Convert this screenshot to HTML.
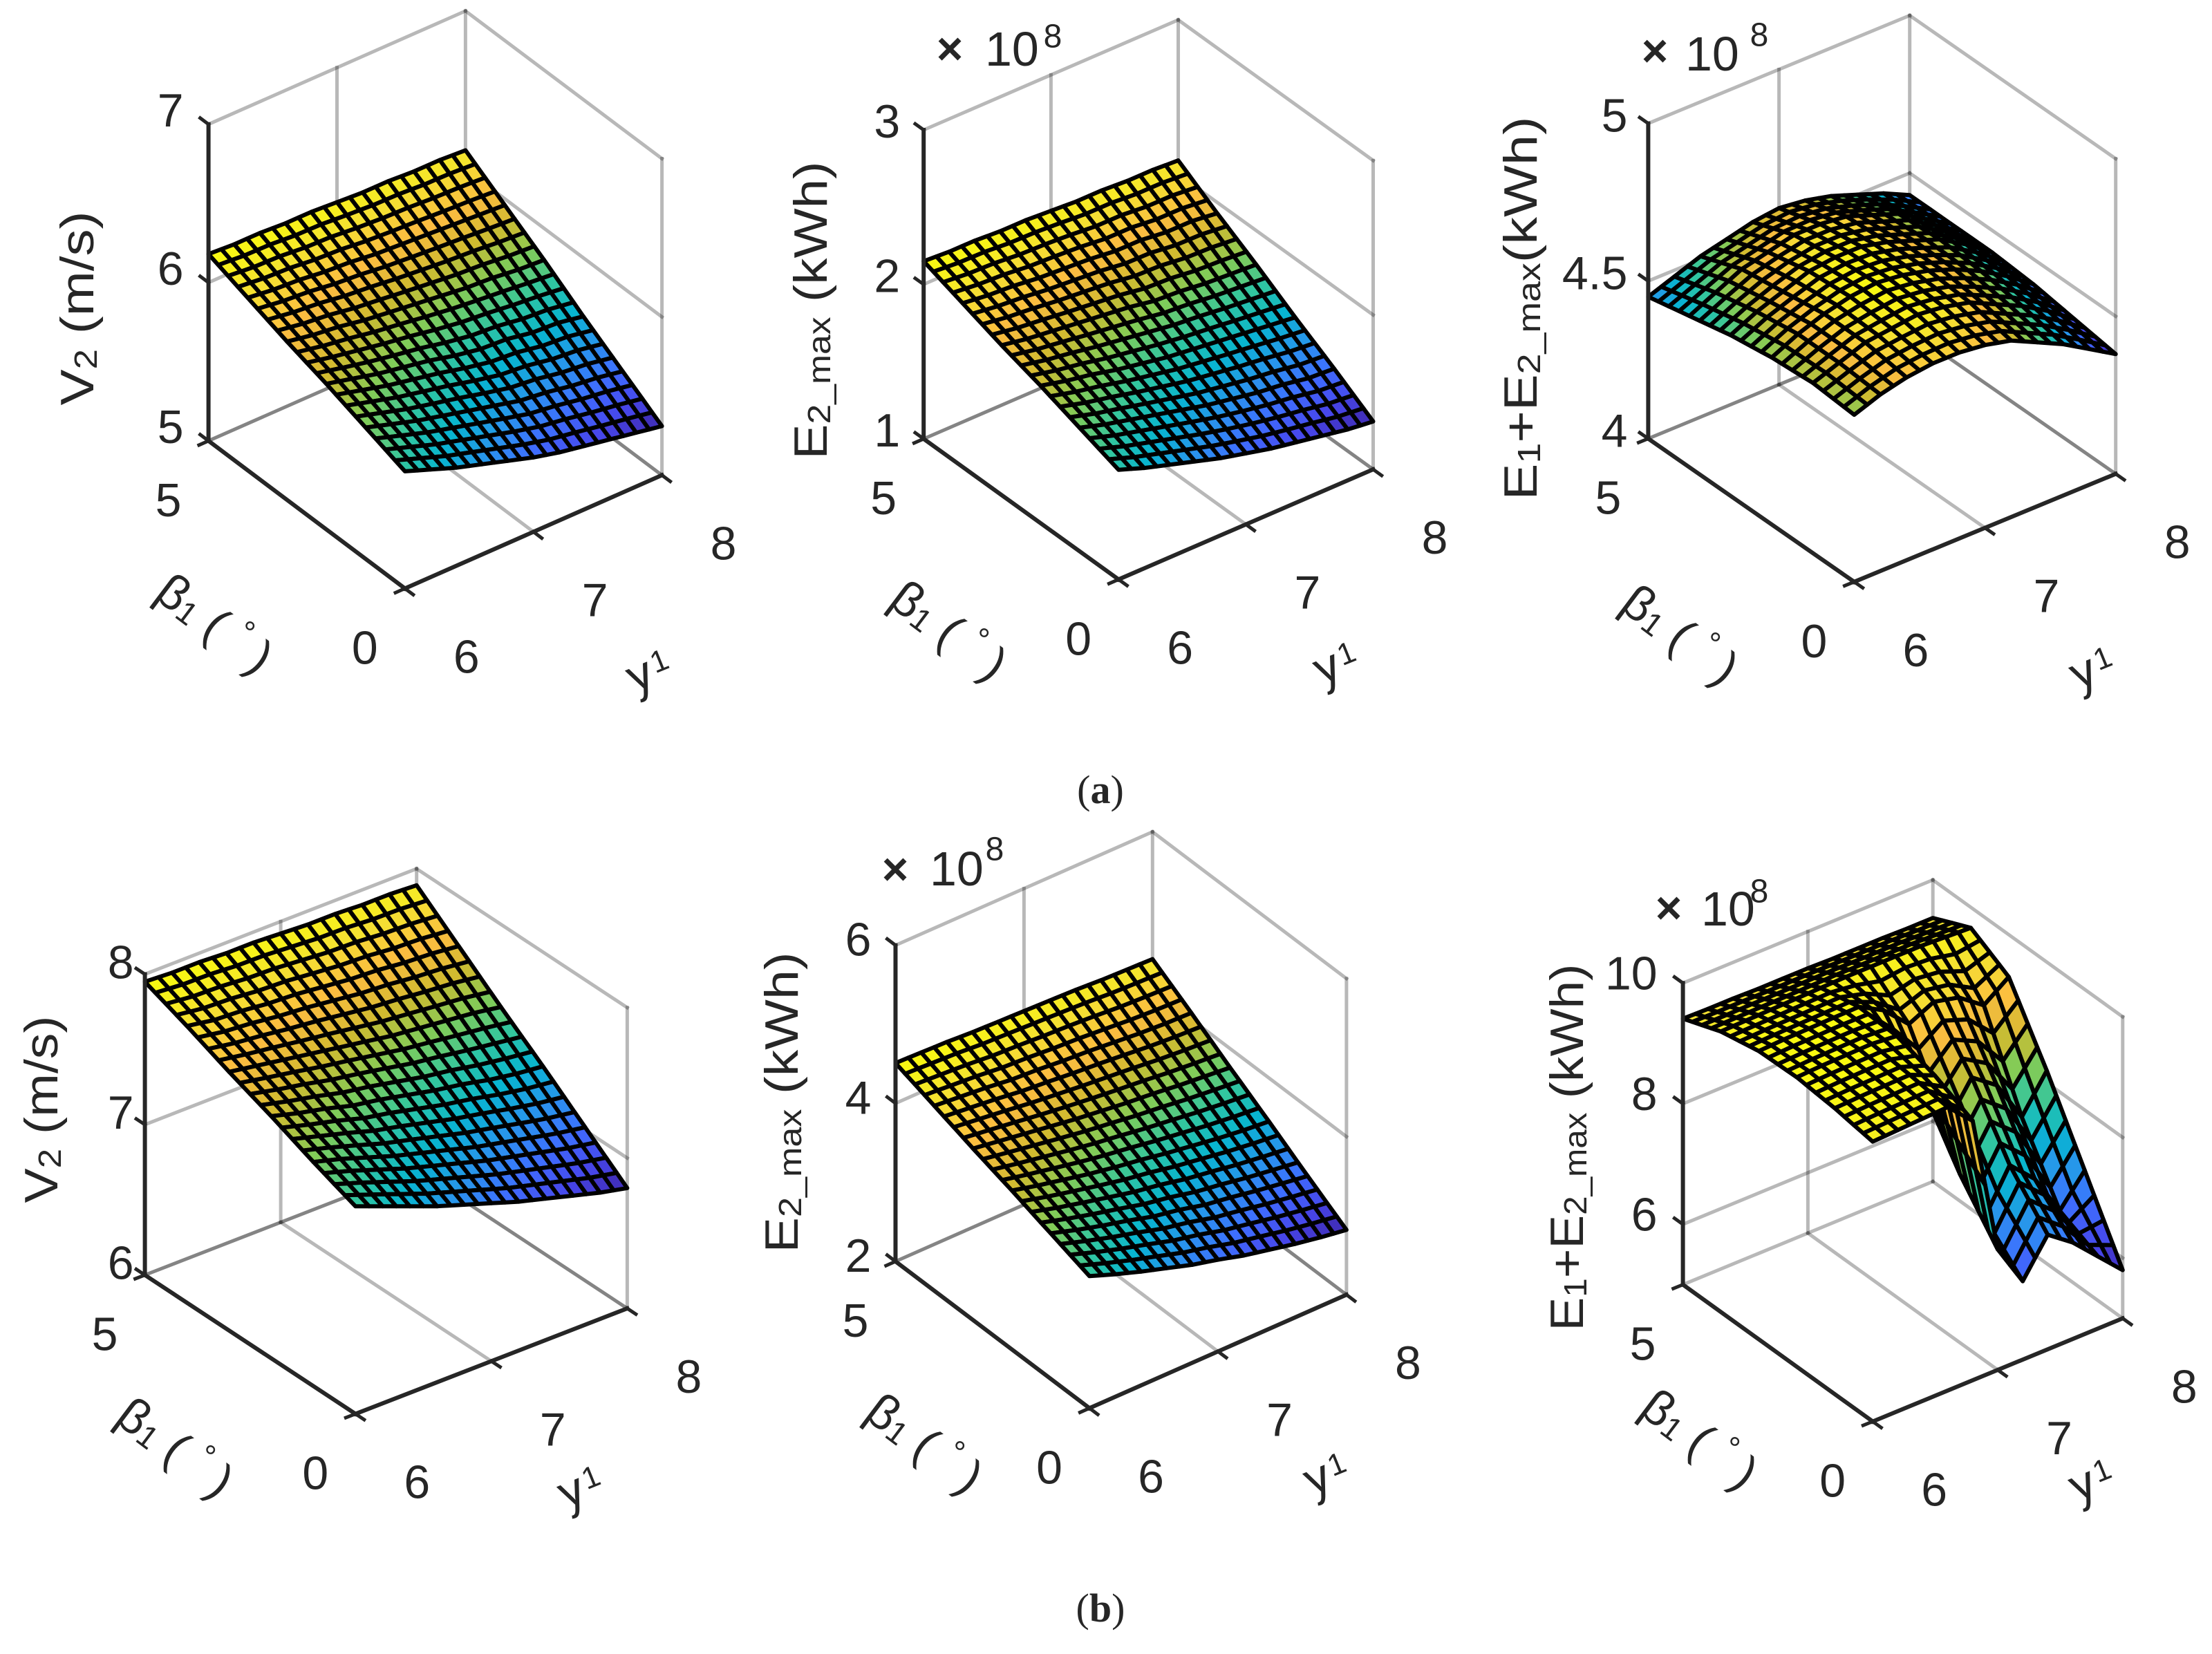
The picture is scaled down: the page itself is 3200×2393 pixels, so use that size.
<!DOCTYPE html>
<html>
<head>
<meta charset="utf-8">
<title>Surface plots</title>
<style>
  html,body{margin:0;padding:0;background:#fff;}
  svg{display:block;}
  text{font-family:"Liberation Sans",Arial,sans-serif;fill:#262626;}
</style>
</head>
<body>
<svg id="fig" xmlns="http://www.w3.org/2000/svg" width="3200" height="2393" viewBox="0 0 3200 2393">
  <rect x="0" y="0" width="3200" height="2393" fill="#ffffff"/>
  <text x="1592" y="1162" font-size="58" text-anchor="middle" style="font-family:'Liberation Serif',serif">(<tspan font-weight="bold">a</tspan>)</text>
  <text x="1592" y="2346" font-size="58" text-anchor="middle" style="font-family:'Liberation Serif',serif">(<tspan font-weight="bold">b</tspan>)</text>
</svg>
<script>
// ---- data (rows: beta = 0..5, columns: lambda = 6.0..8.0 step 0.2) ----
const lambdaGrid = [6.0,6.2,6.4,6.6,6.8,7.0,7.2,7.4,7.6,7.8,8.0];
const betaGrid = [0,1,2,3,4,5];
const lambdaTicks = [6,7,8];
const betaTicks = [0,5];

const v2TopZ = [
 [5.74,5.68,5.62,5.57,5.52,5.47,5.43,5.40,5.37,5.34,5.31],
 [5.83,5.78,5.73,5.69,5.65,5.61,5.57,5.55,5.52,5.50,5.47],
 [5.92,5.88,5.84,5.81,5.78,5.74,5.71,5.70,5.67,5.66,5.63],
 [6.00,5.97,5.95,5.92,5.90,5.88,5.86,5.84,5.83,5.81,5.80],
 [6.09,6.07,6.06,6.04,6.03,6.01,6.00,5.99,5.98,5.97,5.96],
 [6.18,6.17,6.17,6.16,6.16,6.15,6.14,6.14,6.13,6.13,6.12]
];
const e2TopZ = [
 [1.71,1.65,1.60,1.55,1.50,1.46,1.42,1.39,1.36,1.33,1.31],
 [1.80,1.75,1.71,1.67,1.63,1.59,1.56,1.53,1.51,1.48,1.47],
 [1.89,1.85,1.82,1.78,1.75,1.72,1.70,1.68,1.66,1.64,1.62],
 [1.97,1.94,1.92,1.90,1.88,1.86,1.83,1.82,1.80,1.79,1.78],
 [2.06,2.04,2.03,2.01,2.00,1.99,1.97,1.97,1.95,1.95,1.93],
 [2.15,2.14,2.14,2.13,2.13,2.12,2.11,2.11,2.10,2.10,2.09]
];
const sumTopZ = [
 [4.53,4.56,4.58,4.59,4.59,4.58,4.56,4.52,4.48,4.43,4.38],
 [4.54,4.57,4.60,4.61,4.62,4.61,4.59,4.55,4.51,4.46,4.40],
 [4.53,4.57,4.60,4.62,4.63,4.62,4.60,4.57,4.53,4.48,4.42],
 [4.51,4.55,4.58,4.61,4.62,4.62,4.60,4.57,4.54,4.49,4.43],
 [4.48,4.52,4.56,4.58,4.60,4.60,4.59,4.56,4.53,4.48,4.43],
 [4.45,4.48,4.51,4.53,4.55,4.56,4.55,4.53,4.50,4.47,4.43]
];
const v2BotZ = [
 [7.38,7.31,7.24,7.17,7.11,7.05,6.99,6.94,6.89,6.84,6.80],
 [7.49,7.44,7.38,7.32,7.27,7.22,7.17,7.13,7.09,7.05,7.02],
 [7.61,7.56,7.52,7.47,7.44,7.40,7.36,7.33,7.29,7.26,7.24],
 [7.72,7.69,7.66,7.63,7.60,7.57,7.54,7.52,7.50,7.48,7.45],
 [7.84,7.81,7.80,7.78,7.77,7.75,7.73,7.72,7.70,7.69,7.67],
 [7.95,7.94,7.94,7.93,7.93,7.92,7.91,7.91,7.90,7.90,7.89]
];
const e2BotZ = [
 [3.67,3.55,3.44,3.34,3.24,3.16,3.07,3.00,2.93,2.87,2.82],
 [3.84,3.74,3.65,3.57,3.48,3.42,3.34,3.29,3.23,3.18,3.13],
 [4.01,3.93,3.86,3.79,3.73,3.68,3.62,3.57,3.52,3.48,3.45],
 [4.17,4.12,4.07,4.02,3.97,3.93,3.89,3.86,3.82,3.79,3.76],
 [4.34,4.31,4.28,4.24,4.22,4.19,4.17,4.14,4.11,4.09,4.08],
 [4.51,4.50,4.49,4.47,4.46,4.45,4.44,4.43,4.41,4.40,4.39]
];
const sumBotZ = [
 [9.64,9.66,9.68,9.70,9.30,7.00,6.30,6.90,6.60,6.20,5.80],
 [9.74,9.76,9.77,9.78,9.60,7.80,6.90,7.60,7.20,6.50,7.00],
 [9.80,9.82,9.83,9.84,9.80,8.80,8.00,8.60,8.30,7.60,8.20],
 [9.78,9.80,9.81,9.82,9.83,9.60,9.20,9.40,9.30,9.00,9.30],
 [9.65,9.66,9.67,9.68,9.69,9.70,9.70,9.70,9.70,9.68,9.66],
 [9.41,9.40,9.40,9.39,9.39,9.39,9.38,9.38,9.38,9.37,9.37]
];

// ---- panel geometry ----
const panels = [
 {name:'panel-a-v2', Z:v2TopZ, F:[585.8,851.4], L:[371.8,-163.9], B:[-284.2,-213.6], Zh:-458, zr:[5,7], zt:[5,6,7], zdx:-36, zdy:3,
  yl:{x:112,y:446,len:281,parts:[['V',0],['2',1],[' (m/s)',0]]}, beta:[311,902], lam:[929,986], mult:null},
 {name:'panel-a-e2max', Z:e2TopZ, F:[1618.2,838.3], L:[368.3,-159.2], B:[-282,-203.4], Zh:-446.9, zr:[1,3], zt:[1,2,3], zdx:-34, zdy:11,
  yl:{x:1173,y:449,len:431,parts:[['E',0],['2_max',1],[' (kWh)',0]]}, beta:[1373,912], lam:[1923,975], mult:{x:1374,y:70,tx:1425,ty:95,sx:1523,sy:53}},
 {name:'panel-a-e1-plus-e2max', Z:sumTopZ, F:[2682.4,841.8], L:[378.3,-156.2], B:[-298,-207.2], Zh:-456, zr:[4,5], zt:[4,4.5,5], zdx:-30, zdy:12,
  yl:{x:2200,y:446,len:555,parts:[['E',0],['1',1],['+E',0],['2_max',1],['(kWh)',0]]}, beta:[2431,918], lam:[3017,982], mult:{x:2394,y:73,tx:2438,ty:102,sx:2545,sy:51}},
 {name:'panel-b-v2', Z:v2BotZ, F:[514.3,2045.6], L:[393.1,-152.6], B:[-304.7,-200.9], Zh:-435.2, zr:[6,8], zt:[6,7,8], zdx:-16, zdy:6,
  yl:{x:60,y:1605,len:271,parts:[['V',0],['2',1],[' (m/s)',0]]}, beta:[254,2094], lam:[830,2167], mult:null},
 {name:'panel-b-e2max', Z:e2BotZ, F:[1576.1,2037.3], L:[371.8,-164.1], B:[-280.6,-212.3], Zh:-457.4, zr:[2,6], zt:[2,4,6], zdx:-35, zdy:15,
  yl:{x:1131,y:1595,len:435,parts:[['E',0],['2_max',1],[' (kWh)',0]]}, beta:[1338,2088], lam:[1909,2148], mult:{x:1295,y:1257,tx:1345,ty:1281,sx:1439,sy:1229}},
 {name:'panel-b-e1-plus-e2max', Z:sumBotZ, F:[2709.2,2056.6], L:[361.6,-149.2], B:[-274.6,-198], Zh:-436.3, zr:[5,10], zt:[6,8,10], zdx:-37, zdy:9,
  yl:{x:2267,y:1660,len:531,parts:[['E',0],['1',1],['+E',0],['2_max',1],[' (kWh)',0]]}, beta:[2459,2082], lam:[3016,2157], mult:{x:2414,y:1313,tx:2461,ty:1339,sx:2545,sy:1290}}
];

const NS='http://www.w3.org/2000/svg';
const svg=document.getElementById('fig');
function mk(tag,attrs,parent){const e=document.createElementNS(NS,tag);for(const k in attrs)e.setAttribute(k,attrs[k]);(parent||svg).appendChild(e);return e;}

const parula=[[0.2422,0.1504,0.6603],[0.2803,0.2782,0.9221],[0.2440,0.4358,0.9988],[0.1540,0.5902,0.9218],[0.0297,0.7082,0.8163],[0.1938,0.7758,0.6251],[0.5044,0.7993,0.3480],[0.8184,0.7327,0.1883],[0.9856,0.7372,0.2537],[0.9598,0.8841,0.1943],[0.9763,0.9831,0.0538]];
function cmap(t){t=Math.max(0,Math.min(1,t));const s=t*10;const i=Math.min(9,Math.floor(s));const f=s-i;const a=parula[i],b=parula[i+1];
 return 'rgb('+[0,1,2].map(k=>Math.round(255*(a[k]+(b[k]-a[k])*f))).join(',')+')';}

function proj(P,lam,beta,z){const u=(lam-6)/2,v=beta/5,w=(z-P.zr[0])/(P.zr[1]-P.zr[0]);
 return [P.F[0]+u*P.L[0]+v*P.B[0], P.F[1]+u*P.L[1]+v*P.B[1]+w*P.Zh];}
function sample(Z,lam,beta){
 let fi=(lam-lambdaGrid[0])/(lambdaGrid[1]-lambdaGrid[0]); let fj=(beta-betaGrid[0])/(betaGrid[1]-betaGrid[0]);
 let i=Math.min(lambdaGrid.length-2,Math.max(0,Math.floor(fi))); let j=Math.min(betaGrid.length-2,Math.max(0,Math.floor(fj)));
 const a=fi-i,b=fj-j;
 return Z[j][i]*(1-a)*(1-b)+Z[j][i+1]*a*(1-b)+Z[j+1][i]*(1-a)*b+Z[j+1][i+1]*a*b;}

const GRID='rgba(0,0,0,0.28)';
function line(g,p,q,stroke,w){return mk('line',{x1:p[0].toFixed(1),y1:p[1].toFixed(1),x2:q[0].toFixed(1),y2:q[1].toFixed(1),stroke:stroke,'stroke-width':w,'stroke-linecap':'square'},g);}

panels.forEach(P=>{
 const g=mk('g',{});
 
 
 const z0=P.zr[0],z1=P.zr[1];
 const gg=mk('g',{},g);
 
 
 line(gg,proj(P,6,5,z0),proj(P,8,5,z0),GRID,5);
 line(gg,proj(P,8,5,z0),proj(P,8,0,z0),GRID,5);
 line(gg,proj(P,7,0,z0),proj(P,7,5,z0),GRID,5);
 line(gg,proj(P,7,5,z0),proj(P,7,5,z1),GRID,5);
 line(gg,proj(P,8,5,z0),proj(P,8,5,z1),GRID,5);
 line(gg,proj(P,8,0,z0),proj(P,8,0,z1),GRID,5);
 const hz=P.zt.slice(); if(hz.indexOf(z1)<0)hz.push(z1);
 hz.forEach(z=>{line(gg,proj(P,6,5,z),proj(P,8,5,z),GRID,5);line(gg,proj(P,8,5,z),proj(P,8,0,z),GRID,5);});
 const sg=mk('g',{},g);
 
 
 let zmin=Infinity,zmax=-Infinity;
 P.Z.forEach(r=>r.forEach(v=>{zmin=Math.min(zmin,v);zmax=Math.max(zmax,v);}));
 const N=20, cells=[];
 for(let i=0;i<N;i++)for(let j=0;j<N;j++){
  const l0=6+2*i/N,l1=6+2*(i+1)/N,b0=5*j/N,b1=5*(j+1)/N;
  const c=[[l0,b0],[l1,b0],[l1,b1],[l0,b1]].map(q=>[q[0],q[1],sample(P.Z,q[0],q[1])]);
  const zc=(c[0][2]+c[1][2]+c[2][2]+c[3][2])/4;
  cells.push({c:c,zc:zc,d:(i+0.5)/N+(j+0.5)/N});
 }
 cells.sort((a,b)=>b.d-a.d);
 cells.forEach(cl=>{
  const pts=cl.c.map(q=>proj(P,q[0],q[1],q[2]).map(v=>v.toFixed(1)).join(',')).join(' ');
  const poly=mk('polygon',{points:pts,fill:cmap((cl.zc-zmin)/(zmax-zmin)),stroke:'#000','stroke-width':6,'stroke-linejoin':'round'},sg);
  
  
 });
 const ax=mk('g',{},g);
 
 
 const AX='#262626';
 const za=line(ax,proj(P,6,5,z0),proj(P,6,5,z1),AX,6);
 
 
 const ba=line(ax,proj(P,6,5,z0),proj(P,6,0,z0),AX,6);
 
 
 const la=line(ax,proj(P,6,0,z0),proj(P,8,0,z0),AX,6);
 
 
 const nrm=v=>{const m=Math.hypot(v[0],v[1]);return [v[0]/m*15,v[1]/m*15];};
 const tb=nrm(P.B), tl=nrm([-P.L[0],-P.L[1]]), tn=nrm([-P.B[0],-P.B[1]]);
 const bfl=proj(P,6,5,z0);
 P.zt.forEach(z=>{const p=proj(P,6,5,z);line(ax,p,[p[0]+tb[0],p[1]+tb[1]],AX,5);
  const t=mk('text',{x:(bfl[0]+P.zdx).toFixed(1),y:(p[1]+P.zdy).toFixed(1),'font-size':68,'text-anchor':'end'},g);
  t.textContent=String(z);
  
  });
 betaTicks.forEach(b=>{const p=proj(P,6,b,z0);line(ax,p,[p[0]+tl[0],p[1]+tl[1]],AX,5);
  const t=mk('text',{x:(p[0]-58).toFixed(1),y:(p[1]+86).toFixed(1),'font-size':68,'text-anchor':'middle','dominant-baseline':'central'},g);
  t.textContent=String(b);
  
  });
 lambdaTicks.forEach(l=>{const p=proj(P,l,0,z0);line(ax,p,[p[0]+tn[0],p[1]+tn[1]],AX,5);
  const t=mk('text',{x:(p[0]+89).toFixed(1),y:(p[1]+99).toFixed(1),'font-size':68,'text-anchor':'middle','dominant-baseline':'central'},g);
  t.textContent=String(l);
  
  });
 const yl=mk('text',{x:0,y:0,'font-size':68,'text-anchor':'middle','dominant-baseline':'central',transform:'translate('+P.yl.x+','+P.yl.y+') rotate(-90)',textLength:P.yl.len,lengthAdjust:'spacingAndGlyphs'},g);
 
 
 P.yl.parts.forEach(pt=>{const ts=mk('tspan',pt[1]?{'font-size':46,'baseline-shift':'-12'}:{},yl);ts.textContent=pt[0];});
 const bl=mk('text',{x:0,y:0,'font-size':70,'text-anchor':'middle','dominant-baseline':'central',transform:'translate('+P.beta[0]+','+P.beta[1]+') rotate(37)'},g);
 
 
 [['β',0],['1',1],[' ( ',0],['°',2],[' )',0]].forEach(pt=>{const ts=mk('tspan',pt[1]===1?{'font-size':46,'baseline-shift':'-12'}:(pt[1]===2?{'font-size':46,'baseline-shift':'18'}:{}),bl);ts.textContent=pt[0];});
 const lg=mk('g',{transform:'translate('+P.lam[0]+','+P.lam[1]+') rotate(-22)'},g);
 
 
 const ll=mk('text',{x:0,y:0,'font-size':72,'text-anchor':'middle','dominant-baseline':'central',transform:'scale(1,-1)'},lg);
 ll.textContent='λ';
 const l1=mk('text',{x:34,y:-18,'font-size':44,'text-anchor':'middle','dominant-baseline':'central'},lg);
 l1.textContent='1';
 if(P.mult){
  const m=mk('text',{x:P.mult.x,y:P.mult.y,'font-size':66,'font-weight':'bold','text-anchor':'middle','dominant-baseline':'central'},g);
  m.textContent='×';
  
  
  const m2=mk('text',{x:P.mult.tx,y:P.mult.ty,'font-size':70},g);
  m2.textContent='10';
  
  
  const m3=mk('text',{x:P.mult.sx,y:P.mult.sy,'font-size':48,'text-anchor':'middle','dominant-baseline':'central'},g);
  m3.textContent='8';
  
  
 }
});
</script>
</body>
</html>
